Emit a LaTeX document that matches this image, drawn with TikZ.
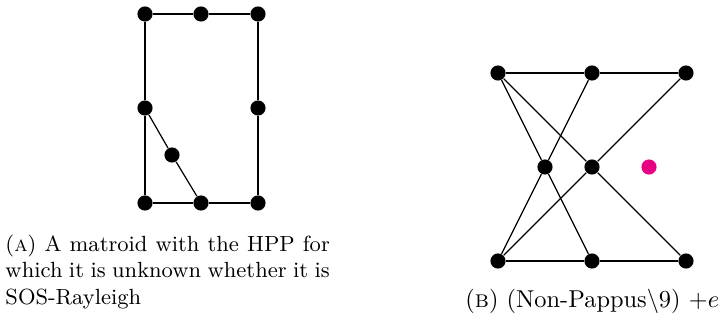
\documentclass[tikz,border=0pt]{standalone}
\usepackage{xcolor}
\definecolor{dotpink}{RGB}{232,0,132}
\begin{document}
\begin{tikzpicture}[x=0.41pt,y=-0.41pt,
  pt/.style={circle,fill=black,inner sep=0pt,minimum size=6.2pt},
  ptx/.style={circle,fill=dotpink,inner sep=0pt,minimum size=6.2pt},
  ln/.style={line width=0.5pt}]
\useasboundingbox (0,0) rectangle (723,321);
% left matroid
\node[pt] (a1) at (145,14) {};
\node[pt] (a2) at (201,14) {};
\node[pt] (a3) at (258,14) {};
\node[pt] (a4) at (145,108) {};
\node[pt] (a5) at (258,108) {};
\node[pt] (a6) at (172,155) {};
\node[pt] (a7) at (145,203) {};
\node[pt] (a8) at (201,203) {};
\node[pt] (a9) at (258,203) {};
\draw[ln] (a1) -- (a2) -- (a3);
\draw[ln] (a3) -- (a5) -- (a9);
\draw[ln] (a9) -- (a8) -- (a7);
\draw[ln] (a7) -- (a4) -- (a1);
\draw[ln] (a4) -- (a6) -- (a8);
% right matroid
\node[pt] (b1) at (498,73) {};
\node[pt] (b2) at (592,73) {};
\node[pt] (b3) at (686,73) {};
\node[pt] (b4) at (545,167) {};
\node[pt] (b5) at (592,167) {};
\node[ptx] (e) at (649,167) {};
\node[pt] (b6) at (498,261) {};
\node[pt] (b7) at (592,261) {};
\node[pt] (b8) at (686,261) {};
\draw[ln] (b1) -- (b2) -- (b3);
\draw[ln] (b6) -- (b7) -- (b8);
\draw[ln] (b1) -- (b4) -- (b7);
\draw[ln] (b1) -- (b5) -- (b8);
\draw[ln] (b2) -- (b4) -- (b6);
\draw[ln] (b3) -- (b5) -- (b6);
% captions
\node[anchor=base west,inner sep=0pt,text width=133pt,align=justify,
  font={\fontsize{9}{10.9}\selectfont}] (capA) at (5,251)
  {(\textsc{a}) A matroid with the HPP for\linebreak which it is unknown whether it is\linebreak SOS-Rayleigh};
\node[anchor=base west,inner sep=0pt,font={\fontsize{10}{12}\selectfont}] (capB) at (465,307)
  {(\textsc{b}) (Non-Pappus$\backslash9$) $+e$};
\end{tikzpicture}
\end{document}
